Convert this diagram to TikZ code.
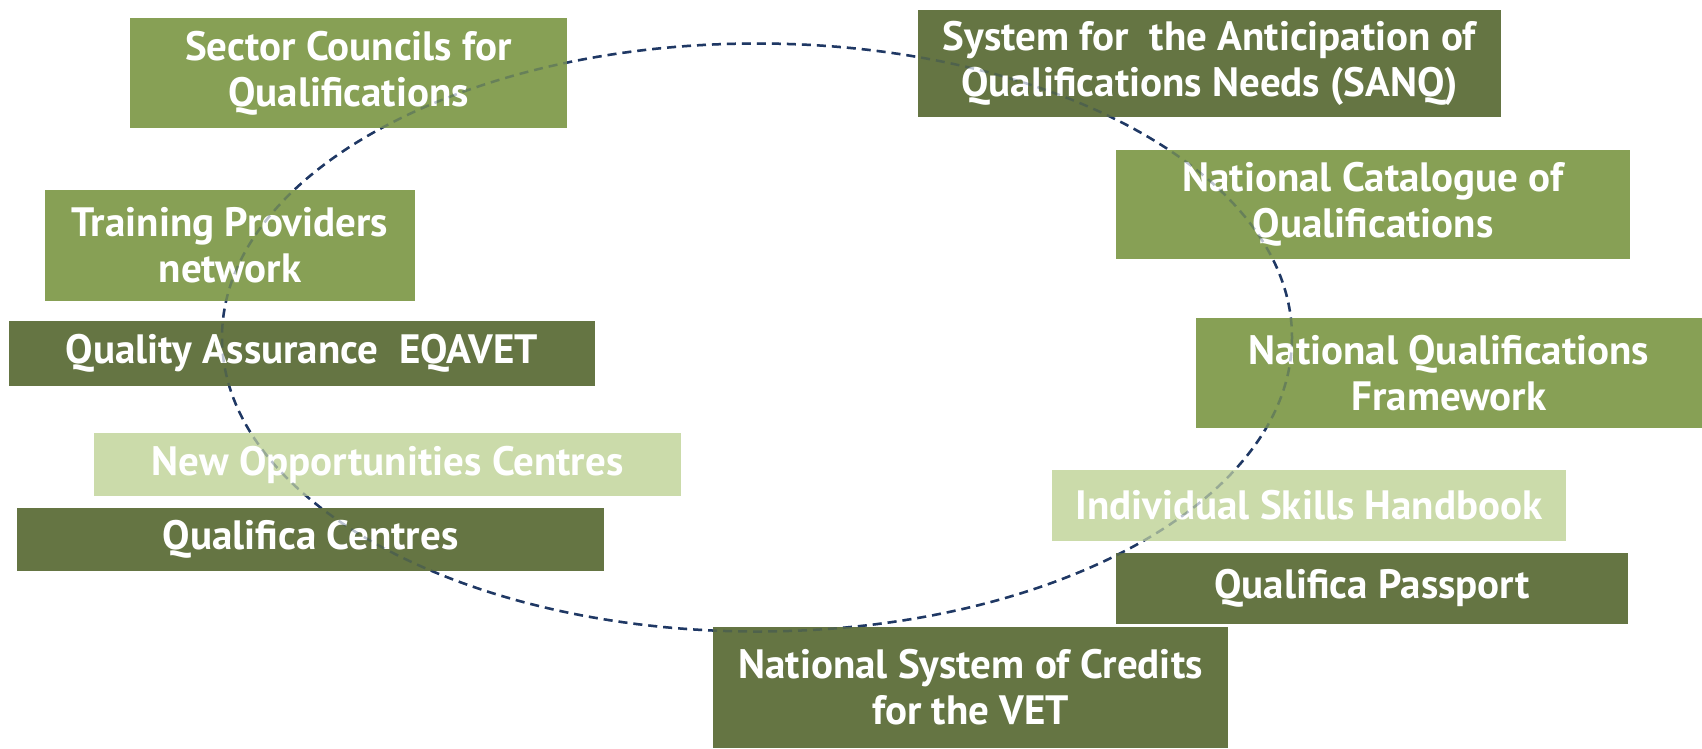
\documentclass[tikz,border=0pt]{standalone}
\usepackage{fontspec}
\setmainfont{PT Sans}
\definecolor{olivemid}{HTML}{87A055}
\definecolor{olivedark}{HTML}{657543}
\definecolor{olivelight}{HTML}{CBDBAA}
\definecolor{ringblue}{HTML}{1F3864}
\tikzset{
  box/.style={rectangle, inner sep=0pt, align=center, text=white, font=\fontsize{41}{46}\selectfont\bfseries}, % every label box
  midbox/.style={box, fill=olivemid}, % medium green
  darkbox/.style={box, fill=olivedark}, % dark green
  lightbox/.style={box, fill=olivelight}, % pale green
  ring/.style={draw=ringblue, line width=2.5pt, dash pattern=on 9pt off 6pt}, % the dashed loop
}
\begin{document}
\begin{tikzpicture}[x=1pt, y=-1pt]
    \useasboundingbox (0,0) rectangle (1702,748);

    \draw[ring] (757,337.5) ellipse [x radius=535, y radius=294];

    % left side
    \node[midbox, minimum width=437, minimum height=110] (sc) at (348.5,73) {Sector Councils for\\Qualifications};
    \node[midbox, minimum width=370, minimum height=111] (tp) at (230,245.5) {Training Providers\\network};
    \node[darkbox, minimum width=586, minimum height=65] (qa) at (302,353.5) {Quality Assurance\enspace EQAVET};
    \node[lightbox, minimum width=587, minimum height=63] (noc) at (387.5,464.5) {New Opportunities Centres};
    \node[darkbox, minimum width=587, minimum height=63] (qc) at (310.5,539.5) {Qualifica Centres};

    % right side
    \node[darkbox, minimum width=583, minimum height=107] (sanq) at (1209.5,63.5) {System for\enspace the Anticipation of\\Qualifications Needs (SANQ)};
    \node[midbox, minimum width=514, minimum height=109] (ncq) at (1373,204.5) {National Catalogue of\\Qualifications};
    \node[midbox, minimum width=506, minimum height=110] (nqf) at (1449,373) {National Qualifications\\Framework};
    \node[lightbox, minimum width=514, minimum height=71] (ish) at (1309,505.5) {Individual Skills Handbook};
    \node[darkbox, minimum width=512, minimum height=71] (qp) at (1372,588.5) {Qualifica Passport};
    \node[darkbox, minimum width=515, minimum height=121] (nsc) at (970.5,687.5) {National System of Credits\\for the VET};

    % loop shows faintly through the boxes
    \draw[ring, draw opacity=0.3] (757,337.5) ellipse [x radius=535, y radius=294];

\end{tikzpicture}
\end{document}
